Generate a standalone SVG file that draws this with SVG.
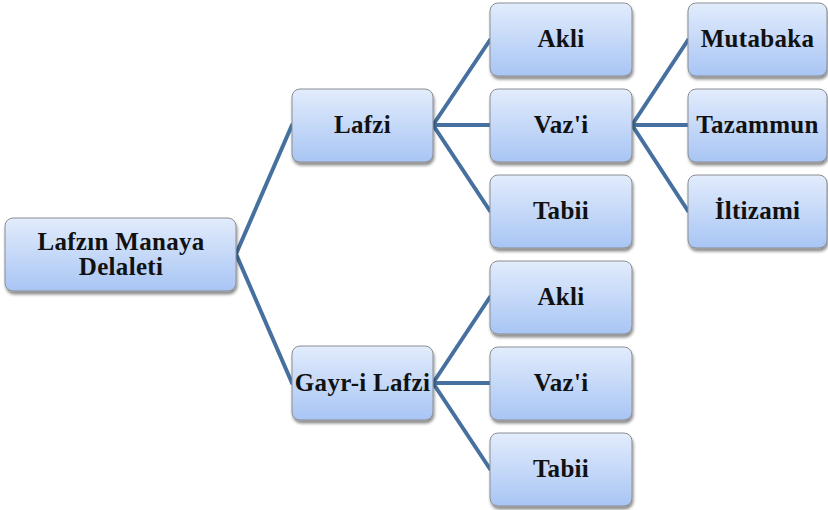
<svg xmlns="http://www.w3.org/2000/svg" width="828" height="510" viewBox="0 0 828 510">
<defs>
<linearGradient id="g" x1="0" y1="0" x2="0" y2="1">
<stop offset="0" stop-color="#e2ecfc"/>
<stop offset="1" stop-color="#a8c5f4"/>
</linearGradient>
<filter id="sh" x="-10%" y="-10%" width="125%" height="135%">
<feGaussianBlur in="SourceAlpha" stdDeviation="1.6"/>
<feOffset dx="1" dy="2.5" result="o"/>
<feComponentTransfer><feFuncA type="linear" slope="0.45"/></feComponentTransfer>
<feMerge><feMergeNode/><feMergeNode in="SourceGraphic"/></feMerge>
</filter>
</defs>
<style>
.box{fill:url(#g);stroke:#8a8d93;stroke-width:1;filter:url(#sh)}
.t{font-family:"Liberation Serif","DejaVu Serif",serif;font-weight:bold;font-size:25px;letter-spacing:0.3px;fill:#111;text-anchor:middle}
.c line{stroke:#46709f;stroke-width:4;stroke-linecap:round}
</style>
<rect width="828" height="510" fill="#fff"/>
<g class="c" id="connectors">
<line x1="236" y1="254" x2="292" y2="125"/>
<line x1="236" y1="254" x2="292" y2="383"/>
<line x1="433" y1="125" x2="490" y2="40"/>
<line x1="433" y1="125" x2="490" y2="125"/>
<line x1="433" y1="125" x2="490" y2="211"/>
<line x1="632" y1="125" x2="688" y2="40"/>
<line x1="632" y1="125" x2="688" y2="125"/>
<line x1="632" y1="125" x2="688" y2="211"/>
<line x1="433" y1="383" x2="490" y2="297"/>
<line x1="433" y1="383" x2="490" y2="383"/>
<line x1="433" y1="383" x2="490" y2="469"/>
</g>
<g id="root"><rect class="box" x="5" y="218" width="231" height="73" rx="8"/><text class="t" x="121" y="250">Lafzın Manaya</text><text class="t" x="121" y="275">Delaleti</text></g>
<g id="lafzi"><rect class="box" x="292" y="89" width="141" height="73" rx="8"/><text class="t" x="362.5" y="133">Lafzi</text></g>
<g id="gayri"><rect class="box" x="292" y="346" width="141" height="74" rx="8"/><text class="t" x="362.5" y="391">Gayr-i Lafzi</text></g>
<g id="akli1"><rect class="box" x="490" y="3" width="142" height="73" rx="8"/><text class="t" x="561" y="47">Akli</text></g>
<g id="vazi1"><rect class="box" x="490" y="89" width="142" height="73" rx="8"/><text class="t" x="561" y="133">Vaz'i</text></g>
<g id="tabii1"><rect class="box" x="490" y="175" width="142" height="73" rx="8"/><text class="t" x="561" y="219">Tabii</text></g>
<g id="akli2"><rect class="box" x="490" y="261" width="142" height="73" rx="8"/><text class="t" x="561" y="305">Akli</text></g>
<g id="vazi2"><rect class="box" x="490" y="347" width="142" height="73" rx="8"/><text class="t" x="561" y="391">Vaz'i</text></g>
<g id="tabii2"><rect class="box" x="490" y="433" width="142" height="73" rx="8"/><text class="t" x="561" y="477">Tabii</text></g>
<g id="mutabaka"><rect class="box" x="688" y="3" width="139" height="73" rx="8"/><text class="t" x="757.5" y="47">Mutabaka</text></g>
<g id="tazammun"><rect class="box" x="688" y="89" width="139" height="73" rx="8"/><text class="t" x="757.5" y="133">Tazammun</text></g>
<g id="iltizami"><rect class="box" x="688" y="175" width="139" height="73" rx="8"/><text class="t" x="757.5" y="219">İltizami</text></g>
</svg>
